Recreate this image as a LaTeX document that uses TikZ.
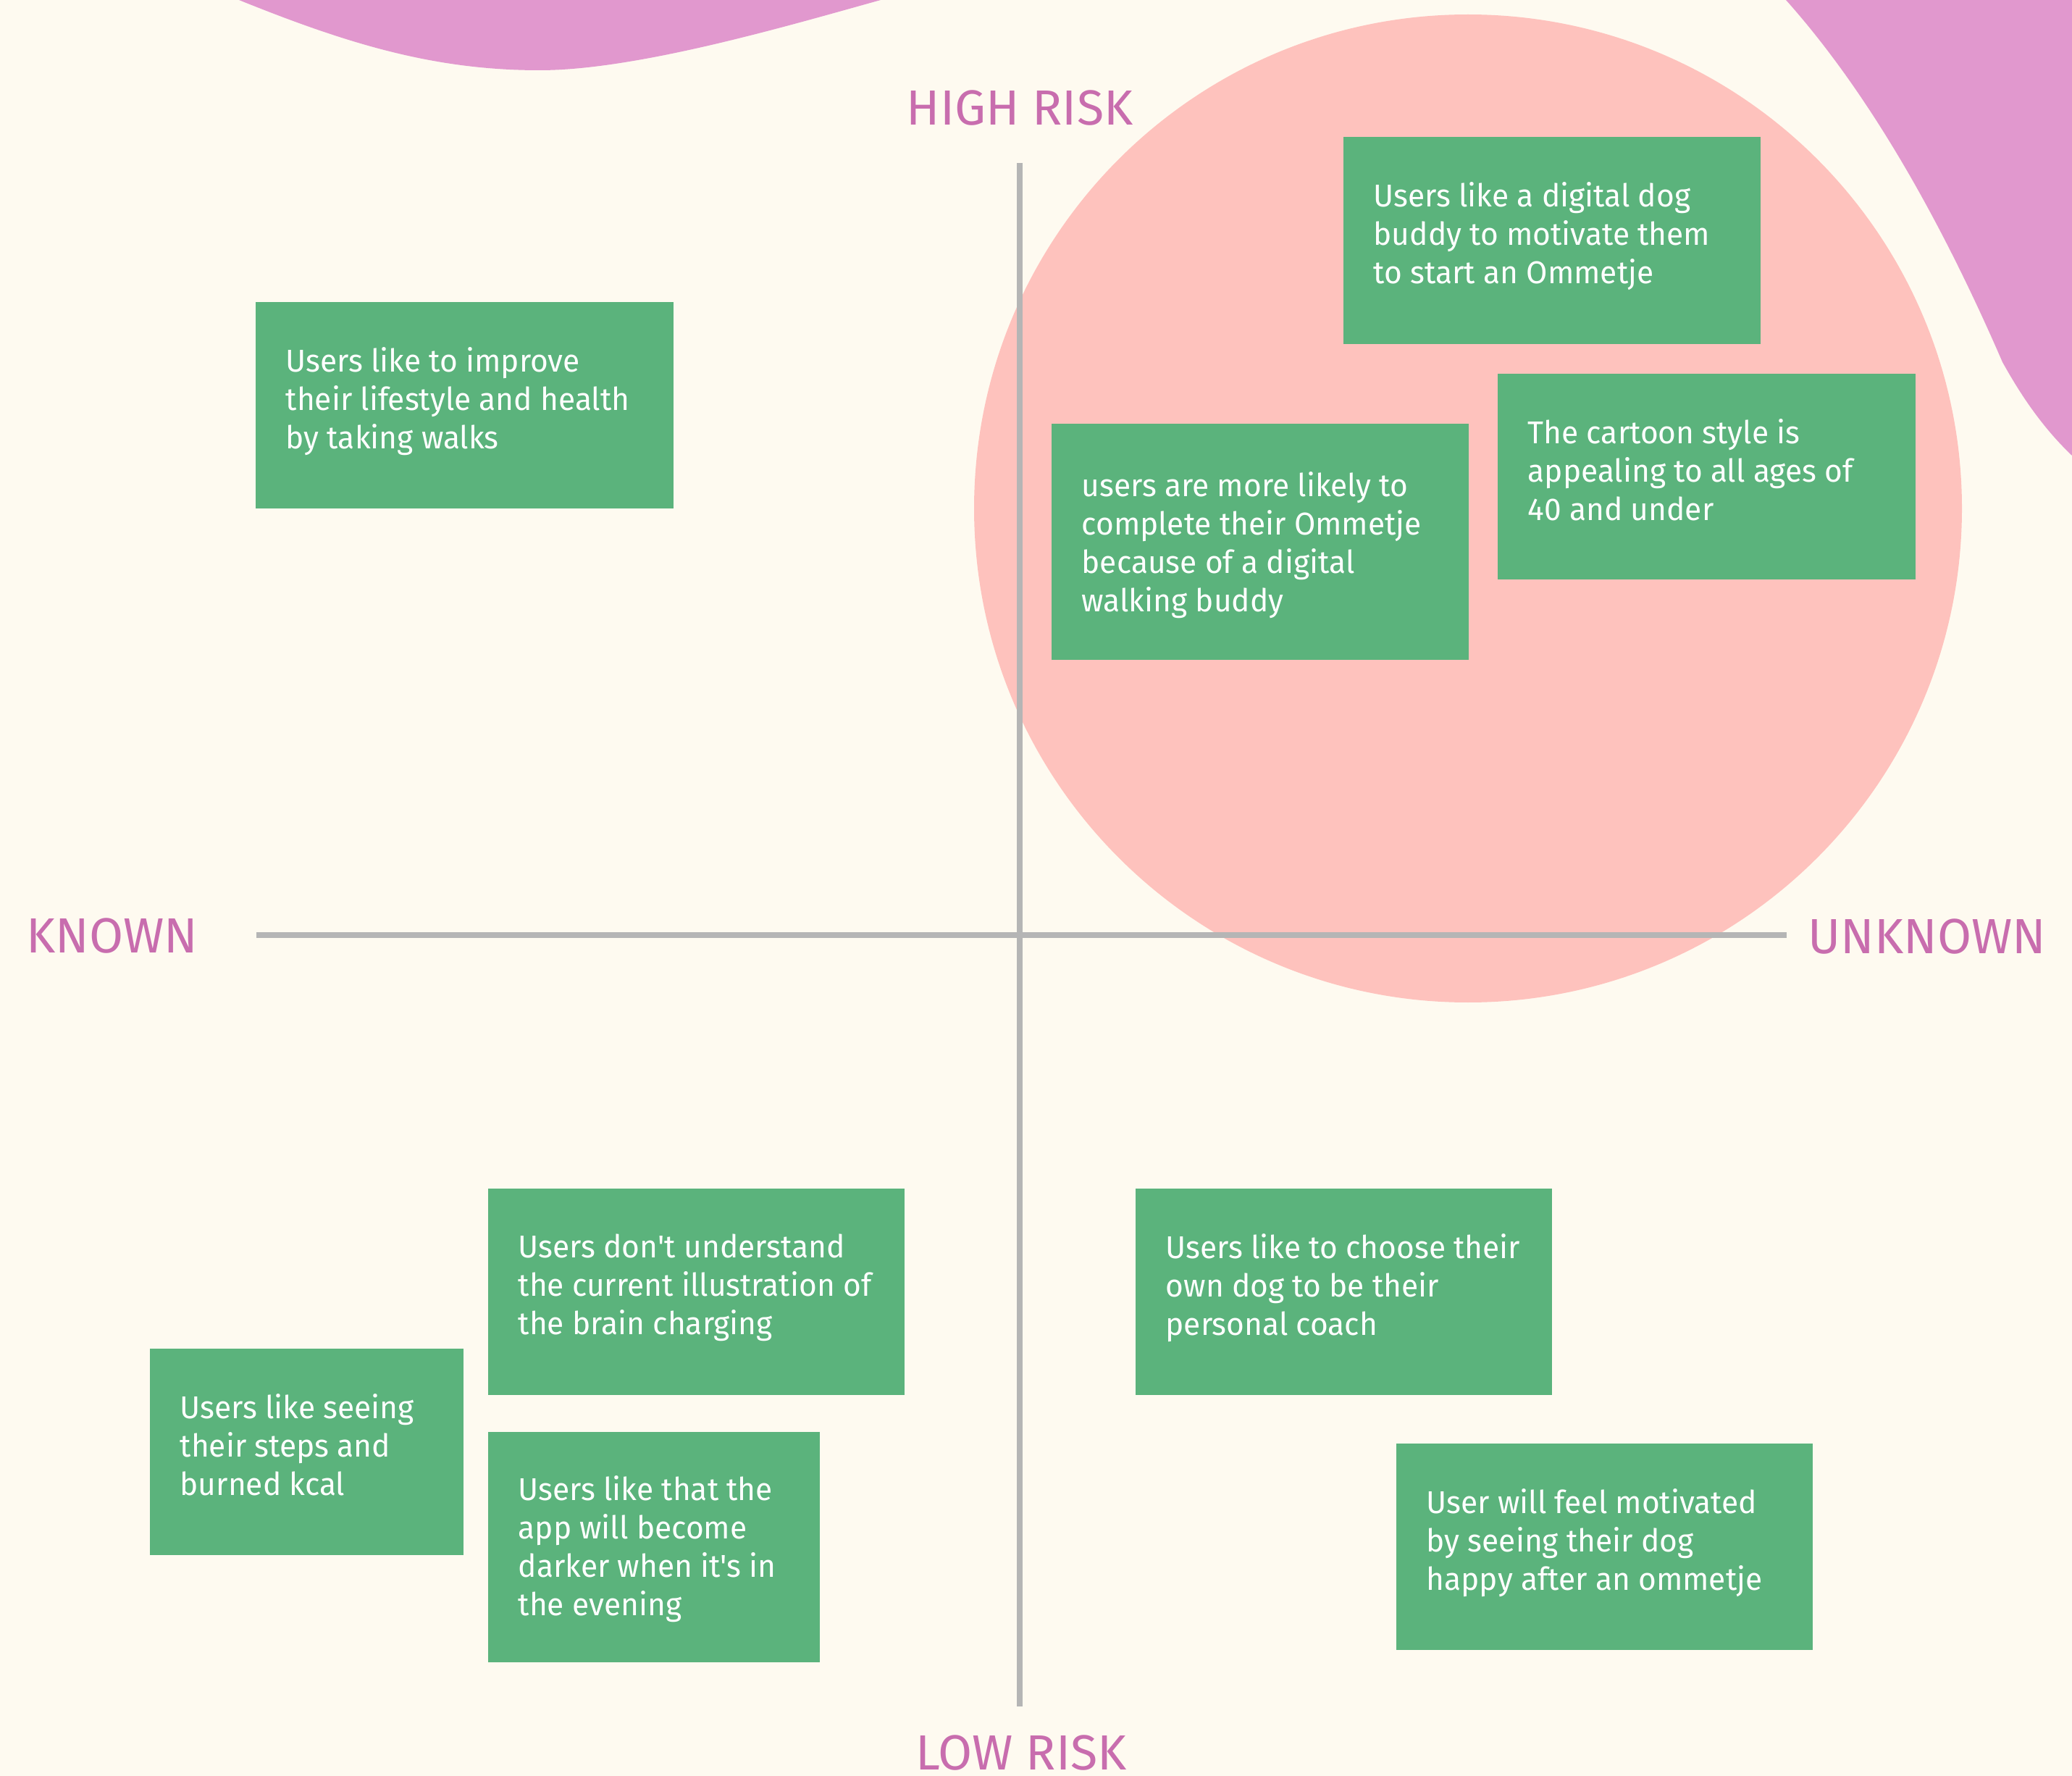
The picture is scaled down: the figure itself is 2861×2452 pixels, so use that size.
\documentclass[tikz,border=0pt]{standalone}
\usepackage{fontspec}
\setmainfont{Fira Sans}
\newfontfamily\notefont[FakeStretch=0.975]{Fira Sans}
\definecolor{paper}{HTML}{FEFAF0}
\definecolor{blob}{HTML}{E198CE}
\definecolor{halo}{HTML}{FEC2BD}
\definecolor{boxgreen}{HTML}{5BB37C}
\definecolor{labelpink}{HTML}{C86DAE}
\definecolor{axisgray}{HTML}{B5B5B5}
\begin{document}
\begin{tikzpicture}[x=0.1mm,y=-0.1mm,
  card/.style={fill=boxgreen, anchor=north west, inner sep=0pt},
  cardtext/.style={text=white, anchor=north west, inner sep=0pt, align=left,
    font=\notefont\fontsize{12.4pt}{15.1pt}\selectfont,
    execute at begin node={\strut}},
  axislabel/.style={text=labelpink, anchor=base, inner sep=0pt,
    font=\fontsize{19.4pt}{22pt}\selectfont},
  axisline/.style={draw=axisgray, line width=0.8mm}]
% canvas
\fill[paper] (0,0) rectangle (2861,2452);
\useasboundingbox (0,0) rectangle (2861,2452);
\clip (0,0) rectangle (2861,2452);
% decorative blobs
\fill[blob] (330,0) .. controls (481,61) and (600,97) .. (745,97)
  .. controls (880,97) and (1090,35) .. (1216,0) -- (1216,-50) -- (330,-50) -- cycle;
\fill[blob] (2466,0) .. controls (2600,150) and (2700,350) .. (2765,500)
  .. controls (2790,545) and (2820,590) .. (2861,629) -- (2900,629) -- (2900,-50) -- (2466,-50) -- cycle;
\fill[halo] (2027,702) circle[radius=68.2mm];
% axes
\coordinate (top) at (1408,225);
\coordinate (bottom) at (1408,2356);
\coordinate (left) at (354,1291);
\coordinate (right) at (2467,1291);
\draw[axisline] (top) -- (bottom);
\draw[axisline] (left) -- (right);
% axis labels
\node[axislabel] (hi) at (1408,173) {HIGH RISK};
\node[axislabel] (lo) at (1410,2443) {LOW RISK};
\node[axislabel] (kn) at (155,1315) {KNOWN};
\node[axislabel] (un) at (2661,1316) {UNKNOWN};
% assumption cards
\node[card, minimum width=57.7mm, minimum height=28.5mm] (n1) at (352,416) {};
\node[card, minimum width=57.6mm, minimum height=28.6mm] (n2) at (1854,188) {};
\node[card, minimum width=57.7mm, minimum height=28.4mm] (n3) at (2067,515) {};
\node[card, minimum width=57.6mm, minimum height=32.6mm] (n4) at (1451,584) {};
\node[card, minimum width=57.5mm, minimum height=28.5mm] (n5) at (673,1640) {};
\node[card, minimum width=43.3mm, minimum height=28.5mm] (n6) at (206,1861) {};
\node[card, minimum width=45.8mm, minimum height=31.8mm] (n7) at (673,1976) {};
\node[card, minimum width=57.5mm, minimum height=28.5mm] (n8) at (1567,1640) {};
\node[card, minimum width=57.5mm, minimum height=28.5mm] (n9) at (1927,1992) {};
% card texts
\node[cardtext] (t1) at ([shift={(42,63)}]n1.north west)
  {Users like to improve\\their lifestyle and health\\by taking walks};
\node[cardtext] (t2) at ([shift={(42,63)}]n2.north west)
  {Users like a digital dog\\buddy to motivate them\\to start an Ommetje};
\node[cardtext] (t3) at ([shift={(42,63)}]n3.north west)
  {The cartoon style is\\appealing to all ages of\\40 and under};
\node[cardtext] (t4) at ([shift={(42,67)}]n4.north west)
  {users are more likely to\\complete their Ommetje\\because of a digital\\walking buddy};
\node[cardtext] (t5) at ([shift={(42,63)}]n5.north west)
  {Users don't understand\\the current illustration of\\the brain charging};
\node[cardtext] (t6) at ([shift={(42,63)}]n6.north west)
  {Users like seeing\\their steps and\\burned kcal};
\node[cardtext] (t7) at ([shift={(42,61)}]n7.north west)
  {Users like that the\\app will become\\darker when it's in\\the evening};
\node[cardtext] (t8) at ([shift={(42,63)}]n8.north west)
  {Users like to choose their\\own dog to be their\\personal coach};
\node[cardtext] (t9) at ([shift={(42,63)}]n9.north west)
  {User will feel motivated\\by seeing their dog\\happy after an ommetje};
\end{tikzpicture}
\end{document}
